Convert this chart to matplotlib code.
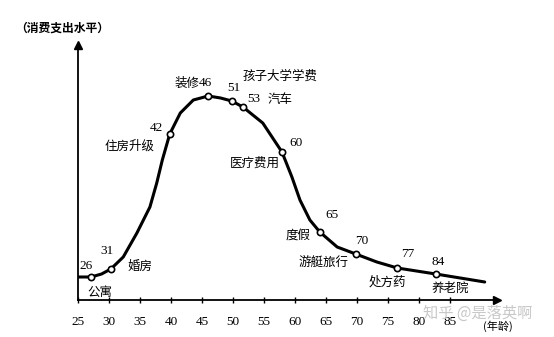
import matplotlib

matplotlib.use("Agg")
import matplotlib.pyplot as plt

plt.rcParams["font.family"] = ["Noto Sans CJK SC", "DejaVu Sans"]

# curve (age, spending level)
curve_age = [24.8, 27.1, 28.8, 30.3, 32.3, 34.5, 36.6, 37.7, 38.6, 39.8,
             41.5, 43.6, 46.0, 48.0, 49.8, 51.6, 54.8, 57.9, 59.5, 60.8,
             62.4, 64.0, 66.8, 69.8, 73.2, 76.5, 82.7, 90.6]
curve_level = [23, 23, 26, 31, 43, 67, 93, 117, 140, 166,
               187, 200, 204, 202, 199, 193, 177, 148, 123, 100,
               80, 68, 53, 46, 38, 32, 26, 18]

# marked life events: label age, marker position, event text
mark_age = [27.1, 30.3, 39.8, 46.0, 49.8, 51.6, 57.9, 64.0, 69.8, 76.5, 82.7]
mark_level = [23, 31, 166, 204, 199, 193, 148, 68, 46, 32, 26]
mark_text = ["26", "31", "42", "46", "51", "53", "60", "65", "70", "77", "84"]
events = ["公寓", "婚房", "住房升级", "装修", "孩子大学学费", "汽车",
          "医疗费用", "度假", "游艇旅行", "处方药", "养老院"]

xticks = [25, 30, 35, 40, 45, 50, 55, 60, 65, 70, 75, 80, 85]

fig = plt.figure(figsize=(5.54, 3.37), dpi=100)
ax = fig.add_axes([78 / 554, 37 / 337, 419 / 554, 255 / 337])
ax.set_xlim(25, 25 + 419 / 6.2)
ax.set_ylim(0, 255)

ax.plot(curve_age, curve_level, color="black", lw=2.2, solid_capstyle="round",
        solid_joinstyle="round", zorder=2)
ax.plot(mark_age, mark_level, "o", ms=4.5, mfc="white", mec="black", mew=1.2,
        zorder=3)

for s in ["top", "right"]:
    ax.spines[s].set_visible(False)
for s in ["left", "bottom"]:
    ax.spines[s].set_linewidth(1.3)
ax.plot(1, 0, ">k", ms=6, transform=ax.transAxes, clip_on=False)
ax.plot(0, 1, "^k", ms=6, transform=ax.transAxes, clip_on=False)

ax.set_yticks([])
ax.set_xticks(xticks)
ax.set_xticklabels([str(t) for t in xticks], family="Liberation Serif",
                   fontsize=9.5)
ax.tick_params(axis="x", direction="inout", length=5, width=1, pad=9)

# number labels (offsets in points from the marker)
num_off = [(-3.6, 8), (-2.9, 13), (-9.4, 4.3), (-2, 9.4), (1.5, 9.5),
           (7.5, 6), (10, 6.5), (8.6, 12), (4.3, 9.4), (7.2, 10), (2, 8.6)]
for a, lv, t, (dx, dy) in zip(mark_age, mark_level, mark_text, num_off):
    ax.annotate(t, (a, lv), xytext=(dx, dy), textcoords="offset points",
                ha="center", va="center", family="Liberation Serif",
                fontsize=9.5)

# event labels, positioned in data coordinates
ev_x = [28.5, 35.0, 29.2, 40.6, 51.5, 57.6, 49.5, 58.4, 60.5, 71.8, 82.1]
ev_y = [8, 34, 154, 217, 224, 200, 137, 65, 37, 18, 12]
ev_ha = ["center", "center", "left", "left", "left", "center", "left",
         "left", "left", "left", "left"]
for t, x, y, h in zip(events, ev_x, ev_y, ev_ha):
    ax.text(x, y, t, ha=h, va="center", fontsize=9)

fig.text(15 / 554, 1 - 28 / 337, "（消费支出水平）", ha="left", va="center",
         fontsize=8.5, weight="bold")
fig.text(498 / 554, 1 - 326 / 337, "(年龄)", ha="center", va="center",
         fontsize=8)
fig.text(478 / 554, 1 - 313 / 337, "知乎 @是落英啊", ha="center", va="center",
         fontsize=11, color="#c8c8c8")

fig.savefig("out.png", dpi=100)
